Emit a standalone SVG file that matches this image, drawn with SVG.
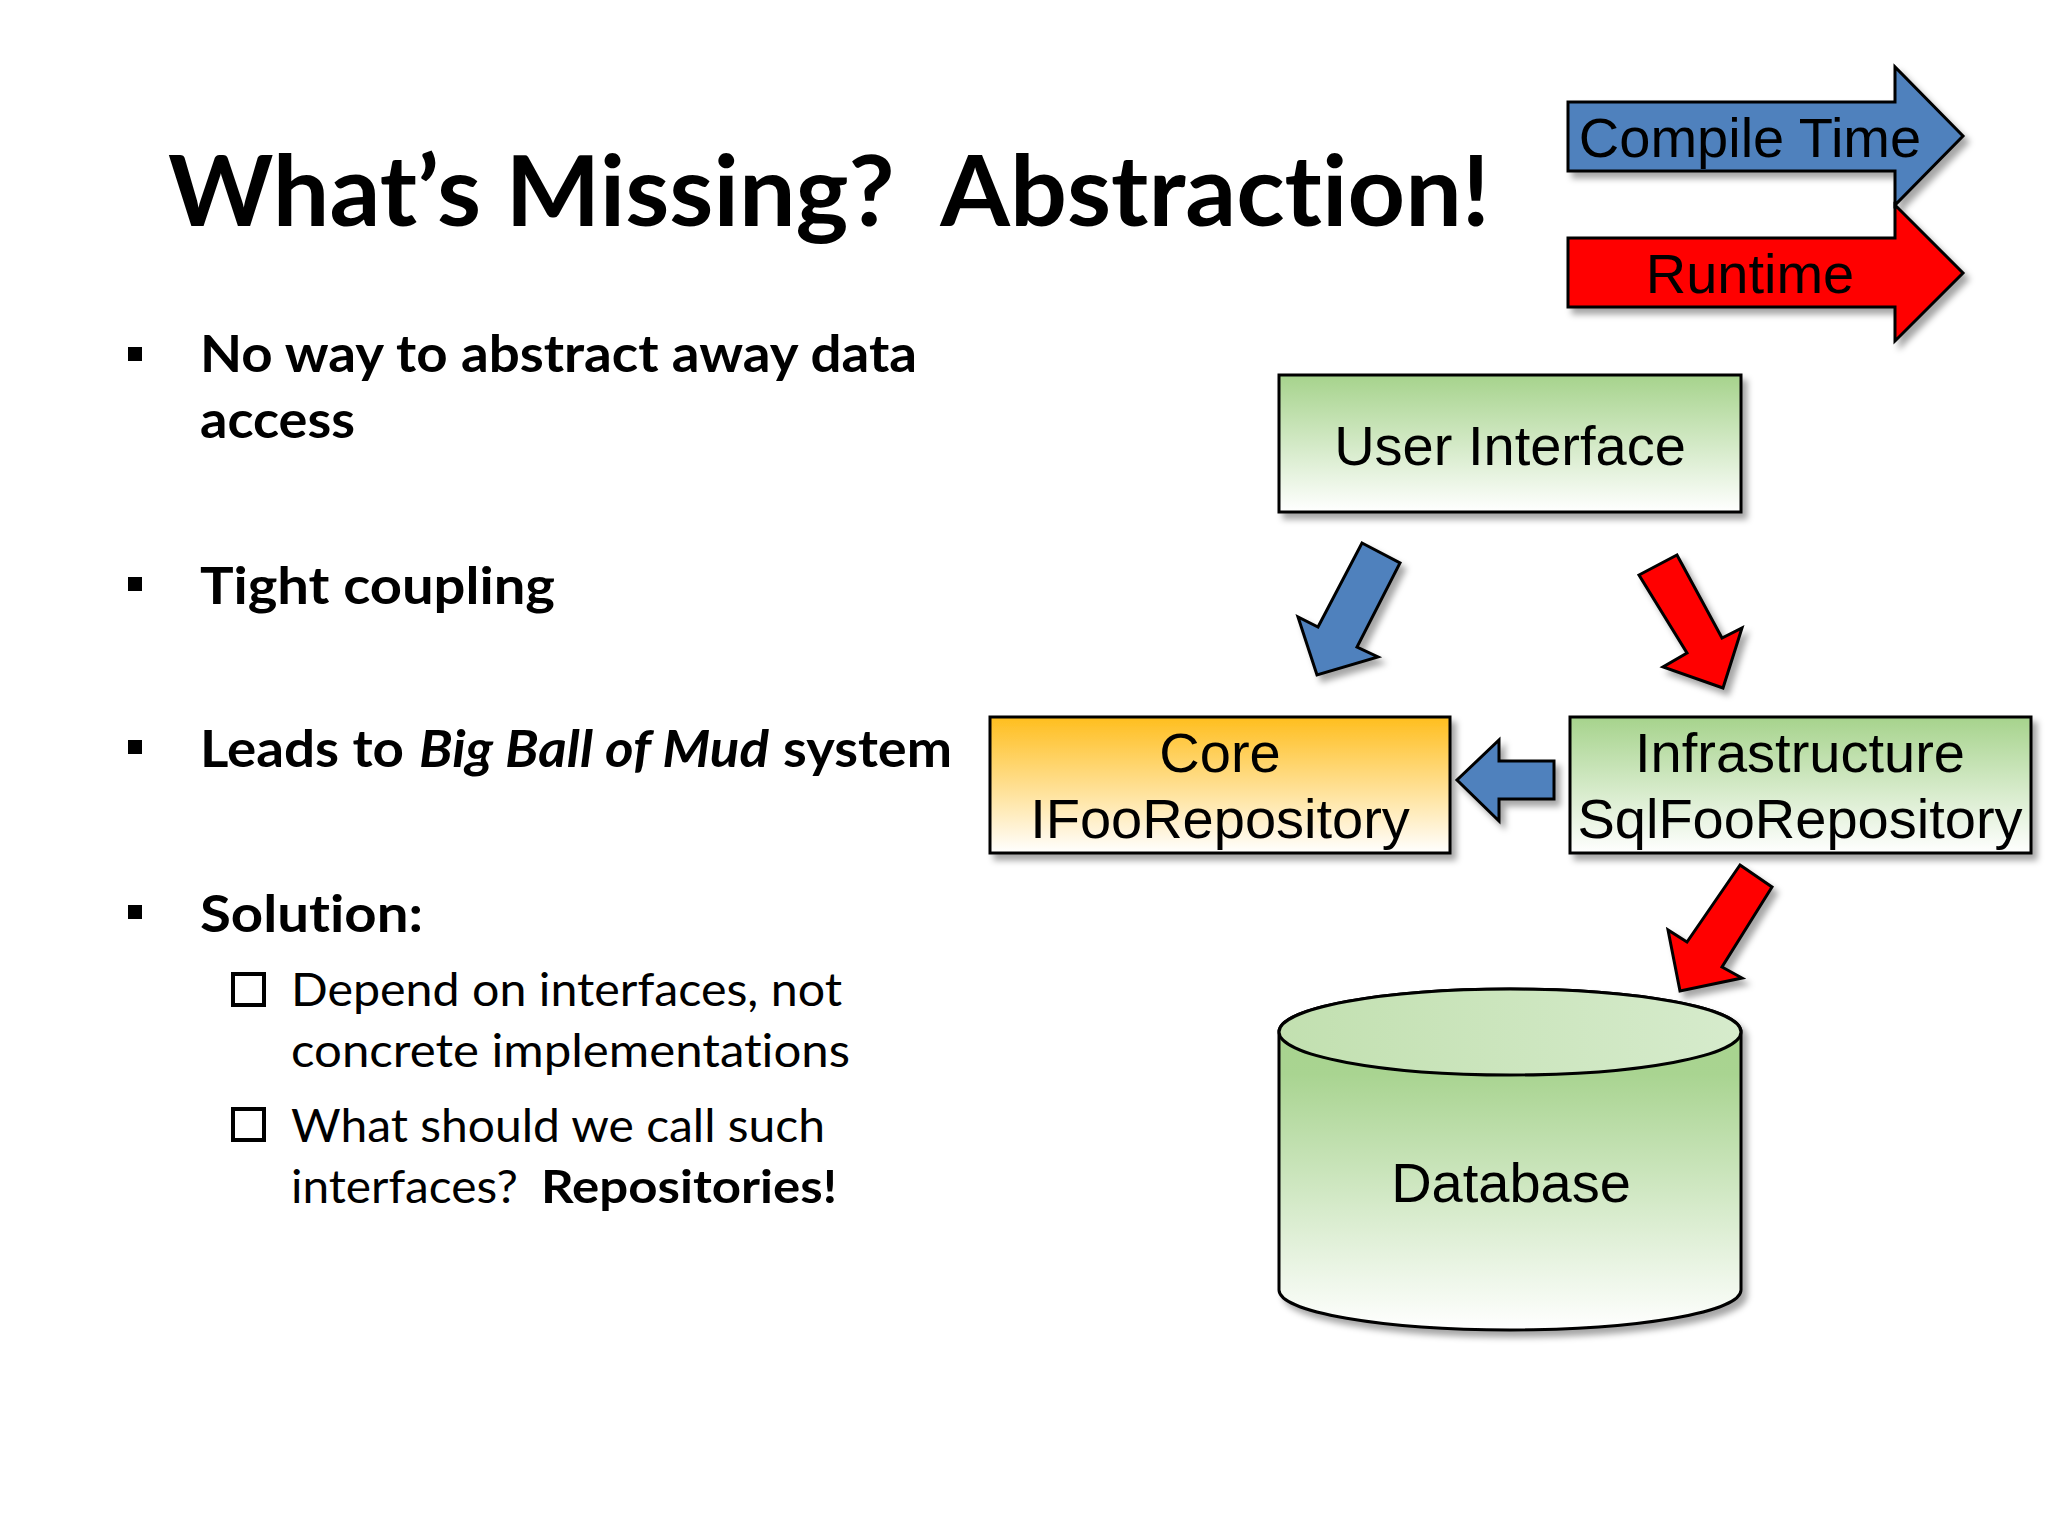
<svg xmlns="http://www.w3.org/2000/svg" width="2048" height="1536" viewBox="0 0 2048 1536">
<defs>
<linearGradient id="gGreen" x1="0" y1="0" x2="0" y2="1">
<stop offset="0" stop-color="#a6d38c"/><stop offset="1" stop-color="#ffffff"/>
</linearGradient>
<linearGradient id="gOrange" x1="0" y1="0" x2="0" y2="1">
<stop offset="0" stop-color="#ffbe1e"/><stop offset="1" stop-color="#ffffff"/>
</linearGradient>
<linearGradient id="gDbSide" x1="0" y1="0" x2="0" y2="1">
<stop offset="0" stop-color="#a6d38c"/><stop offset="0.25" stop-color="#a9d491"/><stop offset="1" stop-color="#ffffff"/>
</linearGradient>
<linearGradient id="gDbTop" x1="0" y1="0" x2="1" y2="0">
<stop offset="0" stop-color="#c2e0b0"/><stop offset="1" stop-color="#d6ebcc"/>
</linearGradient>
<filter id="sh" x="-20%" y="-20%" width="140%" height="140%">
<feDropShadow dx="5" dy="6" stdDeviation="3" flood-color="#000" flood-opacity="0.35"/>
</filter>
<style>
.t{font-family:Lato,"Open Sans","Noto Sans",sans-serif;fill:#000;font-variant-ligatures:none;font-feature-settings:"liga" 0,"dlig" 0}
.b{font-weight:bold}
.d{font-family:"Liberation Sans",Arial,sans-serif;font-size:56px;fill:#000;text-anchor:middle}
.box{stroke:#000;stroke-width:3}
.blue{fill:#4f81bd;stroke:#000;stroke-width:3;stroke-linejoin:miter}
.red{fill:#ff0000;stroke:#000;stroke-width:3;stroke-linejoin:miter}
</style>
</defs>
<rect width="2048" height="1536" fill="#fff"/>

<g id="title">
<text class="t b" x="168" y="226" font-size="98" textLength="1322" lengthAdjust="spacingAndGlyphs" style="white-space:pre">What’s Missing?  Abstraction!</text>
</g>

<g id="bullets">
<rect x="128" y="347" width="14" height="14" fill="#000"/>
<text class="t b" x="200" y="372" font-size="52" textLength="717" lengthAdjust="spacingAndGlyphs">No way to abstract away data</text>
<text class="t b" x="200" y="438" font-size="52" textLength="155" lengthAdjust="spacingAndGlyphs">access</text>
<rect x="128" y="577" width="14" height="14" fill="#000"/>
<text class="t b" x="200" y="604" font-size="52" textLength="355" lengthAdjust="spacingAndGlyphs">Tight coupling</text>
<rect x="128" y="740" width="14" height="14" fill="#000"/>
<text class="t b" x="200" y="767" font-size="52" textLength="204" lengthAdjust="spacingAndGlyphs">Leads to</text>
<text class="t b" x="419" y="767" font-size="52" font-style="italic" textLength="350" lengthAdjust="spacingAndGlyphs">Big Ball of Mud</text>
<text class="t b" x="783" y="767" font-size="52" textLength="169" lengthAdjust="spacingAndGlyphs">system</text>
<rect x="128" y="905" width="14" height="14" fill="#000"/>
<text class="t b" x="200" y="932" font-size="52" textLength="223" lengthAdjust="spacingAndGlyphs">Solution:</text>
<rect x="233" y="974" width="31" height="31" fill="none" stroke="#000" stroke-width="4"/>
<text class="t" x="291" y="1006" font-size="46" textLength="551" lengthAdjust="spacingAndGlyphs">Depend on interfaces, not</text>
<text class="t" x="291" y="1067" font-size="46" textLength="559" lengthAdjust="spacingAndGlyphs">concrete implementations</text>
<rect x="233" y="1109" width="31" height="31" fill="none" stroke="#000" stroke-width="4"/>
<text class="t" x="291" y="1142" font-size="46" textLength="534" lengthAdjust="spacingAndGlyphs">What should we call such</text>
<text class="t" x="291" y="1203" font-size="46" textLength="227" lengthAdjust="spacingAndGlyphs">interfaces?</text>
<text class="t b" x="541" y="1203" font-size="46" textLength="296" lengthAdjust="spacingAndGlyphs">Repositories!</text>
</g>

<g id="legend-compile" filter="url(#sh)">
<path class="blue" d="M1568,102 H1895 V67 L1963,136 L1895,205 V171 H1568 Z"/>
<text class="d" x="1750" y="157">Compile Time</text>
</g>
<g id="legend-runtime" filter="url(#sh)">
<path class="red" d="M1568,238 H1895 V205 L1963,273 L1895,341 V307 H1568 Z"/>
<text class="d" x="1750" y="293">Runtime</text>
</g>

<g id="user-interface">
<rect class="box" x="1279" y="375" width="462" height="137" fill="url(#gGreen)" filter="url(#sh)"/>
<text class="d" x="1510" y="465">User Interface</text>
</g>

<g id="core">
<rect class="box" x="990" y="717" width="460" height="136" fill="url(#gOrange)" filter="url(#sh)"/>
<text class="d" x="1220" y="772">Core</text>
<text class="d" x="1220" y="838">IFooRepository</text>
</g>

<g id="infrastructure">
<rect class="box" x="1570" y="717" width="461" height="136" fill="url(#gGreen)" filter="url(#sh)"/>
<text class="d" x="1800" y="772">Infrastructure</text>
<text class="d" x="1800" y="838">SqlFooRepository</text>
</g>

<g id="database">
<g filter="url(#sh)">
<path class="box" d="M1279,1032 V1290 A231,40 0 0 0 1741,1290 V1032 A231,43 0 0 0 1279,1032 Z" fill="url(#gDbSide)"/>
<ellipse class="box" cx="1510" cy="1032" rx="231" ry="43" fill="url(#gDbTop)"/>
</g>
<text class="d" x="1511" y="1202">Database</text>
</g>

<g id="connectors" filter="url(#sh)">
<path class="blue" d="M1362,543 L1400,563 L1357,647 L1378,657 L1317,675 L1298,617 L1318,627 Z"/>
<path class="red" d="M1639,575 L1677,555 L1722,638 L1742,628 L1723,688 L1663,667 L1687,653 Z"/>
<path class="blue" d="M1554,761 H1499 V740 L1457,780 L1499,821 V799 H1554 Z"/>
<path class="red" d="M1740,865 L1772,887 L1722,967 L1742,978 L1680,991 L1668,930 L1687,942 Z"/>
</g>
</svg>
